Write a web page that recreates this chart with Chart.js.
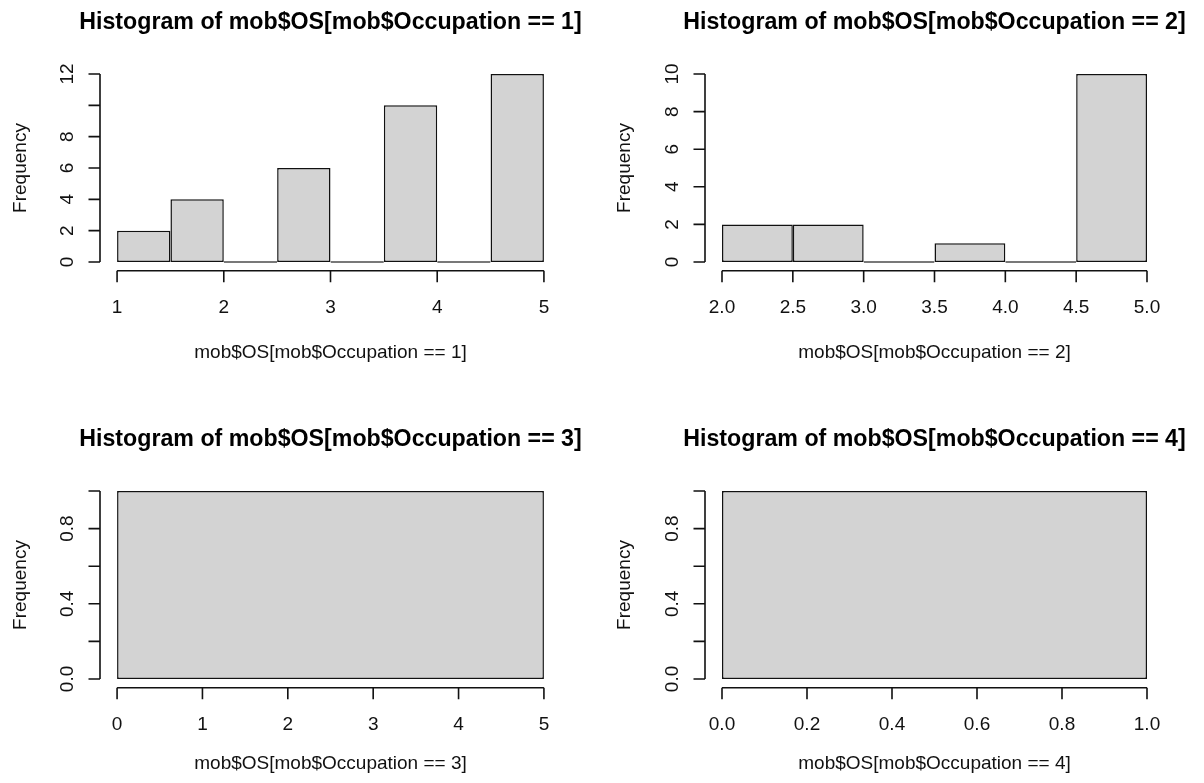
<!DOCTYPE html>
<html>
<head>
<meta charset="utf-8">
<script src="https://cdn.jsdelivr.net/npm/chart.js@4.4.1/dist/chart.umd.min.js"></script>
<style>
html,body{margin:0;padding:0;background:#fff;overflow:hidden;width:1204px;height:783px;position:relative;}
.p{position:absolute;}
canvas{display:block;}
</style>
</head>
<body>
<div class="p" style="left:0;top:0;"><canvas id="c1"></canvas></div>
<div class="p" style="left:604px;top:0;"><canvas id="c2"></canvas></div>
<div class="p" style="left:0;top:417px;"><canvas id="c3"></canvas></div>
<div class="p" style="left:604px;top:417px;"><canvas id="c4"></canvas></div>
<script>
// ---------- data ----------
const titleTexts = [
  'Histogram of mob$OS[mob$Occupation == 1]',
  'Histogram of mob$OS[mob$Occupation == 2]',
  'Histogram of mob$OS[mob$Occupation == 3]',
  'Histogram of mob$OS[mob$Occupation == 4]'
];
const xTitleTexts = [
  'mob$OS[mob$Occupation == 1]',
  'mob$OS[mob$Occupation == 2]',
  'mob$OS[mob$Occupation == 3]',
  'mob$OS[mob$Occupation == 4]'
];
const yTitleText = 'Frequency';

const p1Edges = [1, 1.5, 2, 2.5, 3, 3.5, 4, 4.5, 5];
const p1Counts = [2, 4, 0, 6, 0, 10, 0, 12];
const p1XTicks = [1, 2, 3, 4, 5];
const p1XTickLabels = ['1', '2', '3', '4', '5'];
const p1YTicks = [0, 2, 4, 6, 8, 10, 12];
const p1YTickLabels = ['0', '2', '4', '6', '8', '', '12'];

const p2Edges = [2, 2.5, 3, 3.5, 4, 4.5, 5];
const p2Counts = [2, 2, 0, 1, 0, 10];
const p2XTicks = [2, 2.5, 3, 3.5, 4, 4.5, 5];
const p2XTickLabels = ['2.0', '2.5', '3.0', '3.5', '4.0', '4.5', '5.0'];
const p2YTicks = [0, 2, 4, 6, 8, 10];
const p2YTickLabels = ['0', '2', '4', '6', '8', '10'];

const p3Edges = [0, 5];
const p3Counts = [1];
const p3XTicks = [0, 1, 2, 3, 4, 5];
const p3XTickLabels = ['0', '1', '2', '3', '4', '5'];
const p3YTicks = [0, 0.2, 0.4, 0.6, 0.8, 1.0];
const p3YTickLabels = ['0.0', '', '0.4', '', '0.8', ''];

const p4Edges = [0, 1];
const p4Counts = [1];
const p4XTicks = [0, 0.2, 0.4, 0.6, 0.8, 1.0];
const p4XTickLabels = ['0.0', '0.2', '0.4', '0.6', '0.8', '1.0'];
const p4YTicks = [0, 0.2, 0.4, 0.6, 0.8, 1.0];
const p4YTickLabels = ['0.0', '', '0.4', '', '0.8', ''];

// ---------- layout / style ----------
const FAMILY = '"Liberation Sans", Arial, Helvetica, sans-serif';
const FS = 19;
const TITLE_FS = 23.2;
const INK = '#111';
const BAR_FILL = '#D3D3D3';

// canvas-relative plot regions; canvas is made wide enough that the
// full-width title box is centred over the plot region (as R does)
const geoms = [
  {h: 417, left: 100, right: 561, top: 66.5, bottom: 269.5, xTitleMid: 352.4},
  {h: 417, left: 101, right: 560, top: 66.5, bottom: 269.5, xTitleMid: 352.4},
  {h: 366, left: 100, right: 561, top: 66.5, bottom: 269.5, xTitleMid: 346.5},
  {h: 366, left: 101, right: 560, top: 66.5, bottom: 269.5, xTitleMid: 346.5}
];

const panels = [
  {id: 'c1', edges: p1Edges, counts: p1Counts, xTicks: p1XTicks, xTickLabels: p1XTickLabels, yTicks: p1YTicks, yTickLabels: p1YTickLabels},
  {id: 'c2', edges: p2Edges, counts: p2Counts, xTicks: p2XTicks, xTickLabels: p2XTickLabels, yTicks: p2YTicks, yTickLabels: p2YTickLabels},
  {id: 'c3', edges: p3Edges, counts: p3Counts, xTicks: p3XTicks, xTickLabels: p3XTickLabels, yTicks: p3YTicks, yTickLabels: p3YTickLabels},
  {id: 'c4', edges: p4Edges, counts: p4Counts, xTicks: p4XTicks, xTickLabels: p4XTickLabels, yTicks: p4YTicks, yTickLabels: p4YTickLabels}
];

// R-style axes: line spans first..last tick only
const rAxes = {
  id: 'rAxes',
  afterDraw(chart, args, opts) {
    const {ctx, chartArea: a} = chart;
    const xs = chart.scales.x, ys = chart.scales.y;
    const xt = opts.xTicks, yt = opts.yTicks;
    ctx.save();
    ctx.strokeStyle = INK;
    ctx.lineWidth = 1.6;
    ctx.beginPath();
    const yx = a.left;
    ctx.moveTo(yx, ys.getPixelForValue(yt[0]));
    ctx.lineTo(yx, ys.getPixelForValue(yt[yt.length - 1]));
    yt.forEach(v => {
      const p = ys.getPixelForValue(v);
      ctx.moveTo(yx, p); ctx.lineTo(yx - 11.5, p);
    });
    const xy = a.bottom + 1.2;
    ctx.moveTo(xs.getPixelForValue(xt[0]), xy);
    ctx.lineTo(xs.getPixelForValue(xt[xt.length - 1]), xy);
    xt.forEach(v => {
      const p = xs.getPixelForValue(v);
      ctx.moveTo(p, xy); ctx.lineTo(p, xy + 11.5);
    });
    ctx.stroke();
    ctx.restore();
  }
};

const meas = document.createElement('canvas').getContext('2d');
meas.font = FS + 'px ' + FAMILY;

panels.forEach((p, k) => {
  const g = geoms[k];
  const W = Math.round(g.left + g.right);   // box [0,W] centred on plot centre
  const cv = document.getElementById(p.id);
  cv.width = W; cv.height = g.h;
  const x0 = p.edges[0], x1 = p.edges[p.edges.length - 1];
  const xr = x1 - x0;
  const ymax = Math.max(...p.counts);
  const centers = p.counts.map((c, i) => (p.edges[i] + p.edges[i + 1]) / 2);
  const single = p.counts.length === 1;
  const widest = Math.max(...p.yTickLabels.map(s => meas.measureText(s).width));
  const lh = FS * 1.2;

  new Chart(cv, {
    type: 'bar',
    data: {
      datasets: [{
        data: centers.map((x, i) => ({x: x, y: p.counts[i]})),
        backgroundColor: BAR_FILL,
        borderColor: INK,
        borderWidth: 1.5,
        borderSkipped: false,
        minBarLength: 1.6,
        inflateAmount: 0,
        barThickness: 'flex',
        barPercentage: 1,
        categoryPercentage: single ? (p.edges[1] - p.edges[0]) / (xr * 1.08) : 1
      }]
    },
    options: {
      responsive: false,
      animation: false,
      events: [],
      layout: {padding: 0},
      plugins: {
        legend: {display: false},
        tooltip: {enabled: false},
        title: {
          display: true,
          text: titleTexts[k],
          fullSize: true,
          color: '#000',
          font: {family: FAMILY, size: TITLE_FS, weight: 'bold', lineHeight: 1.2},
          padding: {top: 8.4, bottom: g.top - 8.4 - TITLE_FS * 1.2}
        },
        rAxes: {xTicks: p.xTicks, yTicks: p.yTicks}
      },
      scales: {
        x: {
          type: 'linear',
          position: 'bottom',
          offset: false,
          bounds: 'data',
          min: x0 - 0.04 * xr,
          max: x1 + 0.04 * xr,
          grid: {display: false, drawTicks: false},
          border: {display: false},
          afterBuildTicks: s => { s.ticks = p.xTicks.map(v => ({value: v})); },
          afterFit: s => { s.height = g.h - g.bottom; },
          ticks: {
            autoSkip: false, minRotation: 0, maxRotation: 0, padding: 26.5,
            color: '#111', font: {family: FAMILY, size: FS},
            callback: (v, i) => p.xTickLabels[i]
          },
          title: {
            display: true, text: xTitleTexts[k], color: '#111',
            font: {family: FAMILY, size: FS, lineHeight: 1.2},
            padding: {top: 0, bottom: g.h - g.xTitleMid - lh / 2}
          }
        },
        y: {
          type: 'linear',
          position: 'left',
          bounds: 'data',
          min: -0.04 * ymax,
          max: ymax * 1.04,
          grid: {display: false, drawTicks: false},
          border: {display: false},
          afterBuildTicks: s => { s.ticks = p.yTicks.map(v => ({value: v})); },
          afterFit: s => { s.width = g.left; },
          ticks: {
            autoSkip: false, minRotation: 90, maxRotation: 90, crossAlign: 'center',
            padding: 32.5 - widest / 2,
            color: '#111', font: {family: FAMILY, size: FS},
            callback: (v, i) => p.yTickLabels[i]
          },
          title: {
            display: true, text: yTitleText, color: '#111',
            font: {family: FAMILY, size: FS, lineHeight: 1.2},
            padding: {top: 20.3 - lh / 2, bottom: 0}
          }
        },
        // empty right-hand margin (R's right plot margin)
        yMargin: {
          type: 'linear',
          position: 'right',
          display: true,
          grid: {display: false, drawTicks: false},
          border: {display: false},
          ticks: {display: false},
          afterFit: s => { s.width = W - g.right; }
        }
      }
    },
    plugins: [rAxes]
  });
});
</script>
</body>
</html>
